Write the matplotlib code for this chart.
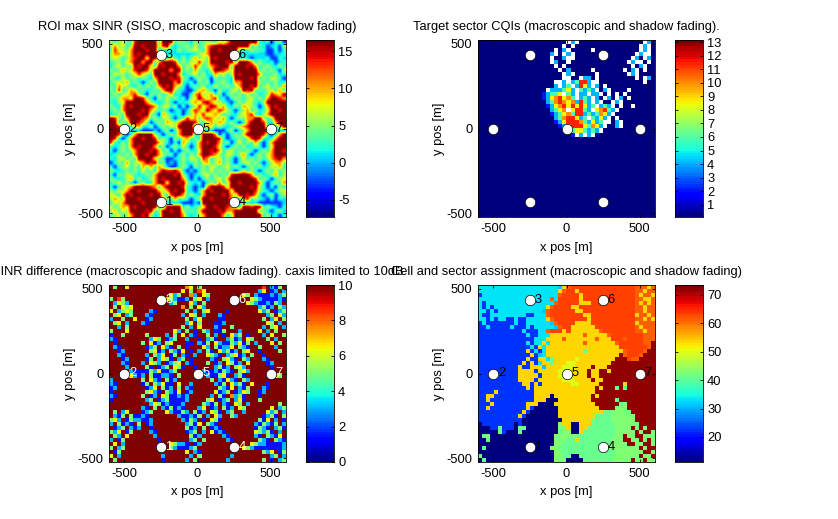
import numpy as np
import matplotlib
matplotlib.use("Agg")
import matplotlib.pyplot as plt

plt.rcParams['font.family'] = ['Liberation Sans', 'DejaVu Sans']
plt.rcParams['axes.unicode_minus'] = False

W, H = 838, 519
site_x = [-250, -500, -250, 250, 0, 250, 500]
site_y = [-433, 0, 433, -433, 0, 433, 0]
site_id = ['1', '2', '3', '4', '5', '6', '7']

sinr_key = {'N': -6, 'B': -3, 'C': 1, 'c': 2.5, 'G': 4, 'g': 5.5, 'Y': 7.5, 'O': 10.5, 'R': 14, 'D': 16.5}
sinr_rows = [
"gcgYGcRDDD DDcDDDcgGc CgcGgGcYgO DDDDDDDcCc BcgB",
"gOgYcgDDRD DDgRDcCcGg cYcGORDDDD DDDDDcgccB CcBg",
"cRYgGODDDR DDCcccCgcG gYGcODDRDD DDcccgGccB BcBc",
"gOOYgODRDD DDDCCCCCCC CCgYODDDDD DCCCCCCCCB BCCc",
"gYgcGORDDY DDcCcYcCgC GOGYGDRDDD DCCcCBCCCc BBcC",
"cGgcYODDOD DcODDDRcgc YgRgGDDDDR DcDDDOcgcC cBCc",
"CgYcgGDRDD YcDRDDDOcg gRYcgORDDD cDDDRDOcGg cCgc",
"gcGOgYRDDR gDDDDODDcg cOGcCYDDRO gDDDDDDcgc gcBg",
"cYggcgYRYg cDDRDDDOCc gYcgCcOgYc gDRDDDDOcG cgCc",
"gcCYcGgcgc CODDDRDRgc BcgGcBgcGc CDDDDRDcgc YgcB",
"cgYgOcGcBc gcDDDDODcC cBgcgBcGgc COODDDDgcG cgCc",
"GcOYgcCgcg cGODRDOgcB cGcgCcYcGg cgODDRDcgY cgcO",
"gcRcGOYcGC cGcODDgcCB BcYOgcBgcC gYcDRDcGcg YcOc",
"cgcgYORgcB gcgcGOCcBB cORgYOcgBc gcgcYcgCcg ROYD",
"GcgOOYDDRg cBgcYcgCcB gYDOgORCcB cgGcgYcgcO DDRO",
"cCgYDDDDDO gcCcgcBcCc YOgRDOgYcC BcgcYgcCgD DDDD",
"gcCODRDDDD ROcgYcgBcB cgRYODRgOc CgcOYgcBcO DRDD",
"cgcODDDDRD OgcGcBCcBC YROgDOYROg cBcgOcgCcY DDRD",
"CcgcDDDRDD gcBOgcCcBc gOYRgYOYcG cCgYORcCgO DDDD",
"DRgcODDDRO cgcgYcBcgR YOGOROYgOc BcgGOODDgc gDDD",
"DDcgcDDROg BcgcOYgODD DRgcYOgOYc gcBcODDDRc CODD",
"DDRcCcYOcC gBcgcYgDDD DcBgOYcgcC cgYORDDDDc BcYD",
"DDDCCCCCBB BCBcgBcODD DDCCCCBBBc gBcgODDDDD CCCC",
"DDRcBcODDD DgcBcgcODD DCcDDDOBcB cgcYDDDDRc BcOD",
"DRcBcODDRD DRcgcBgcYO cGcDDDDRcB CcgcgRDRcC cODD",
"RcCgcODDDD DDOgcBcBOg CcODRDDOcg BcYcgcOcBc ODDD",
"cCcgcODRDD DOcgBcgcYc BcODDDRYcB cgcgCcgcBc YDDD",
"cBcgcgODDD RDOcgBcBcg CcYDDRDOcg YcGcgcBcgc ODDR",
"CcgcgcODDR DDOgcGBcgC gcODDROgcY gcgOcBcgcY ODDD",
"cCgYcgcDDD DYgcBBCcgc YgcROcgYcg cBcYcgcgcg ORDO",
"BcgcOcgYOD RDcgBCBcgC cgcYOcgOcg cBcgYcgcBc gOOg",
"cBcgYcgcOg OcOgCBBcgc BgcgcYgcgY cgcBcgcgCc YgOc",
"gcCcGcgcYc gcODRRDOcB CBcgcYcgcg cBcYcgcBcg cYcg",
"cBgcYgcCcg cODDDDRDgC BCcgYcgcgc RDDDDOcgCc gOcg",
"gcCcgOcgCc gODRDDDDOc BcBcgcgYcO DDDDDDRcgc BcgY",
"cgYcgcBcgC cODDYDDRDg cCcBcgcOcg DDRDDDDOcB cgcO",
"cBcgYODDDD ROcODDDDRc CBCBODDDRg DDDDDRDgcB cBgc",
"gcYgODDRDD DDOgODRDDc CBcODRDDDD gDDDDDRgcC BcgY",
"YgcODRDDDD RDDgcRDDOc gcCODDDDRD OgDDRDOcBc gBcg",
"gOYgDDDRDD DDDOgcOcgc BcgDDRDDDD OgcORcgcCB cBcC",
"cYgODDDDRD DDDCCCCCBB BCBDDDDDDD OCCCCCCBBB BBBC",
"YcgOYDRDDD DDcCDDDDcg CcgYDDRDDR OgcDDRDDcg cCBc",
"gOcYgDDDDR DcgDDRDDgc GcYDDDDRDO ODDDDDDcgC BcgC",
"cgYcgODDRD gCcDDDDDOc CcgODDDDOc gDDDDDDDcg CcBc",
]

cqi_key = {'.': 0.3, 'w': np.nan, 'b': 2, 'c': 4, 'g': 6, 'y': 8.5, 'o': 10, 'r': 11.5, 'd': 13}
cqi_rows = [
".......... .......... ..wcw..... .......... .wc.",
".......... .......... .w.w...... .......... wcw.",
".......... .........w .cw.....w. .......... wcw.",
".......... ........cw .wcw...... .........w cww.",
".......... ........w. .cww...... ........wc .wc.",
".......... ........wc ..w....... .......wcw w.w.",
".......... .........w .w........ ........w. cw..",
".......... .......... w.c.....w. ......w.cw .w..",
".......... .......... .wcw.....w .......wcw ....",
".......... .......... .ww..wcc.w .........w .wc.",
".......... .........w wcwcgrrcww .......... .w..",
".......... .........c wcgwcrycwc .w........ ....",
".......... .......wcc cgycwgcgcw .cw....w.. ....",
".......... ......bcgg ywgcwccwcc w.w.w.w... ....",
".......... ......bcyo ryogwcgcwc .wc.wc.w.. ....",
".......... .......cgo royocrgcwc w..wcw.... ....",
".......... .......bcy oryryrycgw cgcw.w..w. ....",
".......... ........cg yowyrrgcwy orgcw..... ....",
".......... ........bc gyogrrcgcg oycw...... ....",
".......... .........c gorrycgwgc ycw.w..... ....",
".......... .........b cyrrrogcyc gww.cw.... ....",
".......... .......... bcorrrygoy cw..cw.... ....",
".......... .......... .bcgyygcgc w......... ....",
".......... .......... ...bwcwcw. .......... ....",
] + [".......... .......... .......... .......... ...."] * 20

diff_key = {'N': 0.3, 'B': 1.5, 'C': 3, 'G': 5, 'Y': 6.5, 'O': 7.5, 'R': 8.5, 'D': 10}
diff_rows = [
"DGDDYDDDDD DDDDDDDDDO YDGDDDDDDD DDDDDDDDRD CBGD",
"DDDDDDDDDD DDDDDDDDYD GDRYDDDDDD DDDDDDDCYD BCDC",
"DDDDDDDDDD DDDDDYCGDD OCDYGDDDDD DDDYGDCBBB CBCG",
"GDRGDDDDDD DDDDYGCBBC DGYDCDDDDD DDDDDYGCBB BBCB",
"DCYGCDDDDD DDDDDCGDDD YCDGDDDDDD DDDDYGCBBC BGCD",
"DGDYGYDDDD DDDDDDDDOD GDYCDDDDDD DDDDDDDCGB CDGC",
"YDCGYGDDDD CBDDDDDDDG DCDGYDDDDB DDDDDDDYCG DBCG",
"DGYDCGDDDC BDDDDDDDCD YGDCDDDCBD DDDDDDDDDC GDYC",
"CDDGDDYDDB CDDDDDDDDG DCYDDDDBBD DDDDDDDDGD CYDG",
"DGYDCDDDCB DDDDDDDDDC YDGDDDBBCD DDDDDDDDDY GDCD",
"DDCDGDDDDD DDDDDDDDGD CDYDDDCBDD GDDDDDDDCD GYDC",
"GDDDYDDDDD DDDDDDYCDG DBDGCDBBGD DDCDDDDYDC DGDD",
"BDDGDDDDDG DDDDCDGDYD CBDDGDCDBD YCGDBDDDCD YDDG",
"CBDDDDDDDD CYGDBCGDDC DDBDCGBDDC GBCDYGDDDG DCDD",
"DBDDDDDDGD YBCDGYDDDB BDCBGDYCBB GCYBGDCDDD YDGD",
"DCBDDDDDDB CGDYCBDGDB DDDYCDGBCC YDGCBDDGDD DCDD",
"DDBCDDDDDD GYBCDGCBYD BDCDGBDYCG BCDGYDDBDD DDGD",
"DDCBDDDDDC DGCYDBGDCB DCDDYGCBDC GYBCDGDDBD DDDD",
"DDDBCDDDDB GDCYGBDCGD BDDDDCBDGY CBDGCDDDCB DDDD",
"DDDCBDDDCD YGCDBCGYDC BDDDGDBCDY GBCDYDDDDB CDDD",
"DDDDCDDDDG BDBCGDYGBD DBDDDDCGBC DGYCDDDDDD BDDD",
"DDDDDCBBBB GCYBBCGDDD DDDCBBCBGC BDGYCDDDDD DDDD",
"DDDDDYCBCD GBBCCBDGDD DDDDCBBGYB DCGBDDDDDD DYGD",
"CDDDDDDDGD YCBDGBCDDD DDDDDGDCBY CBDGCDDDDD DDDD",
"CBDDDDDDBG DGCYBBDYDD CDDDDDCBGD YCGBDYDDDB DDDD",
"BCDDDDDDDB CYDGBCDGDC BDDDDDDGCB YDCBGDDDCB DDDD",
"BDDDDDDDDG YCBDGCBYDB CDDDDDYBCG DBCYGDDBCD DDDD",
"CBDDDDDDGD BCDYGBBCBC DDDDDCDGBD OCGBDDDBDD DDDD",
"BDDDDDDDDC GDBCGBBBBC DDDDGYDBCG DCYBDDDGDD DDDD",
"DDDDDDDDDD CYGBCBBBCD DDDGCBGDCB DYGDCDDDDD DDGD",
"DDDDDDDDCB DGDCBGBCBD DDCYDBCDGB CDYGDDDDDD YDCG",
"DGDCYDDDBC GDDDYCBBGC DGBCDYGBDC GDDCDDDDDY CGDC",
"DCBGDGBBCB DDDDDDDCBB CBGDCDYCDD GCDDDDDDBC GBDG",
"GYCDBGCCBB CDDDDDDDCB GCDBDYGBDD DDDDDDDGBY DCDB",
"CDGBCBDGDB CDDDDDDDDC GBYDGCBDDD DDDDDDCBGC BGDC",
"DBCGDCBCDD BDDDDDDDDG BCDGDBCBDD DDDDDDBGCB DCGB",
"GCYDBGDDDD CBDDDDDDDB CGDCDYBCBD DDDDDDYGCG BDCD",
"DGCDYDDDDD DCDDDDDDDD GBCDDDDDCB DDDDDDCBDG CBYD",
"CDBGDDDDDD DDBDDDDDDD CGDGDDDDDC BDDDDDDGCB DGCB",
"DYDCDDDDDD DDDDDYGCCB DBCDDDDDDD DDDDDYGCCB BBBC",
"GDCGDDDDDD DDDDDGCBBB CGDDDDDDDD DDDYGCBBBB BBBC",
"DBGDDDDDDD DDDDDDDDDY DCBDDDDDDD DDDDDDDDGC YDBG",
"YDCDDDDDDD DDDCDDDDDD CDGDDDDDDD CDDDDDDDDD CGDC",
"DGDDDDDDDD DDDBDDDDDC DGDDDDDDDC DDDDDDDDGD BDCG",
]

assign_key = {'a': 12, 'c': 22, 'f': 33, 'g': 31, 'h': 43, 'i': 41, 'j': 50, 'k': 54,
              'l': 63, 'm': 61, 'n': 72}
assign_rows = [
"ffffffffff ffffffffff gkmlllllll lllllllllm mmkm",
"ffffffffff ffffffffff kmllklllll lllllllllm mkmm",
"cfffffffff ffffffffff mllllkllll lllllllllm kmmk",
"ffffffffff ffffffffmf lllllkllll lllllllllm mkkm",
"fcffffffff fffffffffm lllllkkkll lllllllllm kmkm",
"fcfcffffff fffffffkml lllkklllll lllllllllm mkmm",
"ffcfcfffff ffffffgmll llllkkllll lllllllllm mkmm",
"fccfffffff ffccfffmll llllllkkll lllllllllk mmkm",
"ffcfcffccf ccfffffkml lllllllkll lllllllllm mkmk",
"cfcccccccf ccffffffgm llllkkkkll lllllllllk mmmm",
"ccfcccccfc ccfcfffffg mllkkkkkkl lllllllllm kmmm",
"cccccccccc cfcccffmll lklkkkkkkk mllllllllm mkmm",
"cccccccccc ccfccfffkk kkkkkkmkkk kkmlllllll lmmm",
"cccccccccc ccccfffkkk kmkkkkkkkm kkklllmlll lmmm",
"cccccccccc ccfcffkfkk kkkkkkmkkk kkkkmlllll lmmn",
"cccccccccc cccfckfkkk kkkkkkkkkk kkkkklllll llmn",
"cccccccccc cckcfcfkkk kkkkkkikkk kkkkkkmlll lmnn",
"cccccccccc ccckcgfkkk kkkkkkkkkk kkkkknmlll mnnn",
"cccccccccc cckcckkfik kkkkjkkkkk kkkknnnlmm nnnn",
"cccccccccc ckckcfkkik kkjjkkkkkk kkknnnnnnn nnnn",
"cccccccccc kcckkkgkkk kjjjkkkknk kknnnnnnnn nnnn",
"cccccccccc kkkkckkkkk jjjkkkknkk nnknnnnnnn nnnn",
"cccccccccc kkkkkckkkk jjjkkkknkk nnnnnnnnnn nnnn",
"cccccccccc kkkkckkkkk kjjjkkkknk knnnnnnnnn nnnn",
"cccccccccc ckkckckkkk kkkjjkkkkk nnnnnnknnn nnnn",
"cccccccccc cckckkkkkk kkkkkkkkkn knnnininnn nnnn",
"cccckccccc cccckkkkkk kkkkkkkkkn nnnnnnnnnn nnnn",
"cckkcccccc cccckkkkak kkkkkkkknk nnnnnnnnnn nnnn",
"cckccccccc cccckkkaaa kkkkkkkknn nnnninnnnn nnnn",
"ccckcccccc cckkkaaaak kkkkkkkkkn nnnnnihnnn nnnn",
"cckccccccc cckcaaaaaa kkkkkkkkkk nnnnhhhnnn nnnn",
"cccccccccc ckcaaaaaaa kkkkkkkkkk kiihhhhhnn nnnn",
"cccccccccc kcaaaaaaaa kkkkkkkkki iiihhhhhhn nnnn",
"cccccccccc caaaaaaaaa akkkkkkkhi iiihhhhhhn nnnn",
"acccccccca caaaaaaaaa hkkaakkkii iiiihhhhhh nnnn",
"aaacciccca hiaaaaaaaa hhkaakkhii iiiihhhhnh nhnn",
"aaaaaicaaa iaaaaaaaaa ihhaakiiii iiiihhhhhn hnnh",
"aihaaaaaaa aaaaaaaaah hhhhiiiiii iiiihhnhhn nhhh",
"aaiaaaaaaa aaaaaaaaah hhiikiiiii iiihhhnnhh nhnh",
"aaaaaaaaaa aaaaaaaaah hiiiiiiiii iiihhhhnnh hnnh",
"aiaaaaaaaa aaaaaaaahh iiiiiiiiii iiihhhhhhh nhnn",
"aaaaaaaaaa aaaaaaaaah hiiiiiiiii iiiihhhhhh hnnh",
"iaaaaaaaaa aaaaaaaaah hiiaaiiiii iiiihhhhhh nhhn",
"aiaaaaaaaa aaaaaaaaah hhaaaaiiii iiihhhhhnh hnhh",
]

titles = ["ROI max SINR (SISO, macroscopic and shadow fading)",
          "Target sector CQIs (macroscopic and shadow fading).",
          "SINR difference (macroscopic and shadow fading). caxis limited to 10dB",
          "Cell and sector assignment (macroscopic and shadow fading)"]
panel_rows = [sinr_rows, cqi_rows, diff_rows, assign_rows]
panel_keys = [sinr_key, cqi_key, diff_key, assign_key]
limits = [(-7.3, 16.5), (0.1, 13.15), (0, 10), (11.2, 73.5)]
cbar_ticks = [[-5, 0, 5, 10, 15], list(range(1, 14)), [0, 2, 4, 6, 8, 10], [20, 30, 40, 50, 60, 70]]
label_colors = ['black', None, 'white', 'black']
smoothing = ['bilinear', 'nearest', 'nearest', 'nearest']
axes_px = [(109, 40), (478, 40), (109, 285), (478, 285)]
cbar_px = [306, 675, 306, 675]
AW, AH = 177, 177
CW = 28
FS = 9.3
XLIM = (-605, 605)
YLIM = (-522, 522)


def decode(rows, key):
    out = []
    for row in rows:
        s = row.replace(' ', '')
        out.append([key[ch] for ch in s])
    return np.array(out, dtype=float)


def px_axes(fig, x, y, w, h):
    return fig.add_axes([x / W, 1 - (y + h) / H, w / W, h / H])


def style(ax):
    ax.tick_params(direction='in', length=2, width=0.6, top=True, right=True,
                   labelsize=FS, pad=4)
    for s in ax.spines.values():
        s.set_linewidth(0.6)


fig = plt.figure(figsize=(W / 100, H / 100), dpi=100, facecolor='white')
cmap = matplotlib.colormaps['jet'].resampled(64).copy()
cmap.set_bad('white')

for i in range(4):
    x0, y0 = axes_px[i]
    ax = px_axes(fig, x0, y0, AW, AH)
    vmin, vmax = limits[i]
    ax.imshow(decode(panel_rows[i], panel_keys[i]), cmap=cmap, vmin=vmin, vmax=vmax,
              extent=(XLIM[0], XLIM[1], YLIM[0], YLIM[1]), origin='upper',
              aspect='auto', interpolation=smoothing[i])
    ax.plot(site_x, site_y, 'o', ms=7.5, mfc='white', mec='black', mew=0.5, ls='none')
    if label_colors[i]:
        for sx, sy, sid in zip(site_x, site_y, site_id):
            ax.text(sx + 32, sy, sid, color=label_colors[i], fontsize=FS,
                    ha='left', va='center', clip_on=True)
    ax.set_xlim(XLIM)
    ax.set_ylim(YLIM)
    ax.set_xticks([-500, 0, 500])
    ax.set_yticks([-500, 0, 500])
    ax.set_xlabel('x pos [m]', fontsize=FS, labelpad=5)
    ax.set_ylabel('y pos [m]', fontsize=FS, labelpad=1)
    ax.set_title(titles[i], fontsize=FS, pad=7)
    style(ax)

    cax = px_axes(fig, cbar_px[i], y0, CW, AH)
    grad = np.linspace(vmax, vmin, 256).reshape(-1, 1)
    cax.imshow(grad, cmap=cmap, vmin=vmin, vmax=vmax, aspect='auto',
               extent=(0, 1, vmin, vmax), origin='upper', interpolation='nearest')
    cax.set_xticks([])
    cax.yaxis.tick_right()
    cax.set_yticks(cbar_ticks[i])
    cax.tick_params(direction='in', length=2, width=0.6, left=True, right=True,
                    labelsize=FS, pad=3)
    for s in cax.spines.values():
        s.set_linewidth(0.6)

fig.savefig('out.png', dpi=100)
